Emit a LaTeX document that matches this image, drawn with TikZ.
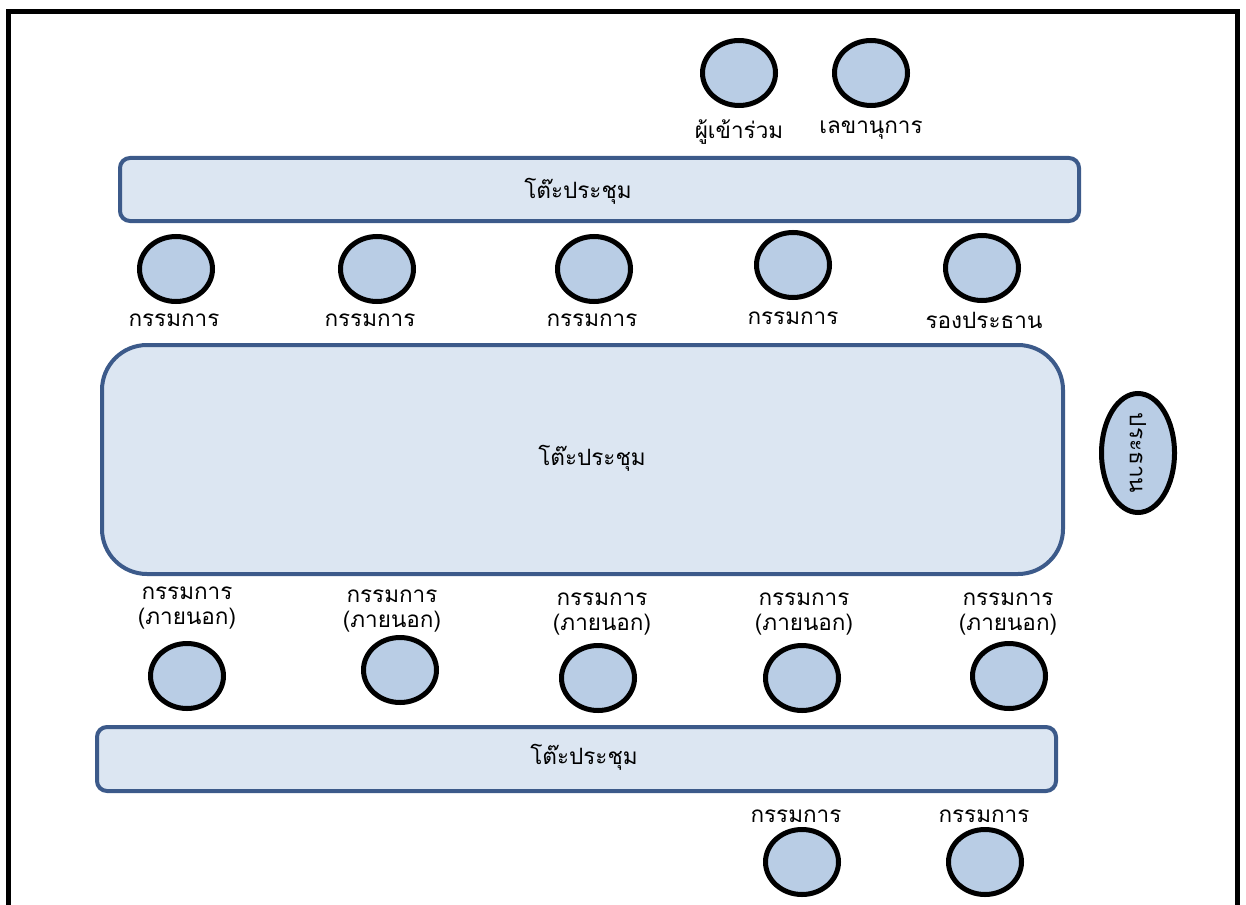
\documentclass[tikz,border=0pt]{standalone}
\usepackage{fontspec}
\newfontfamily\thaifont[Script=Thai]{Loma}
\usetikzlibrary{shapes.geometric}
\definecolor{seatfill}{HTML}{B9CDE5}
\definecolor{tablefill}{HTML}{DCE6F2}
\definecolor{tableedge}{HTML}{3C5A8A}
\begin{document}
\begin{tikzpicture}[x=1pt,y=-1pt,
  seat/.style={ellipse, draw=black, line width=5pt, fill=seatfill,
    minimum width=73pt, minimum height=65pt, inner sep=0pt},
  chairseat/.style={seat, minimum height=119pt},
  desk/.style={draw=tableedge, line width=4pt, fill=tablefill,
    rounded corners=10pt, inner sep=0pt},
  lbl/.style={font=\thaifont\fontsize{22.5}{25}\selectfont, inner sep=0pt, align=center},
]
\useasboundingbox (0,0) rectangle (1246,904);
\begin{scope}
\clip (0,0) rectangle (1246,904);
% room outline, open at the bottom edge
\coordinate (wallbl) at (8.5,920);
\coordinate (walltl) at (8.5,11.5);
\coordinate (walltr) at (1237.5,11.5);
\coordinate (wallbr) at (1237.5,920);
\draw[line width=5pt, line join=miter] (wallbl) -- (walltl) -- (walltr) -- (wallbr);

% tables
\node[desk, minimum width=959pt, minimum height=63pt] (deskA) at (599.5,189.5) {};
\node[desk, rounded corners=45pt, minimum width=961pt, minimum height=229pt] (deskB) at (582.5,459.5) {};
\node[desk, minimum width=959pt, minimum height=64pt] (deskC) at (576.5,759) {};
\node[lbl] (deskAtext) at (578,191) {โต๊ะประชุม};
\node[lbl] (deskBtext) at (592,458) {โต๊ะประชุม};
\node[lbl] (deskCtext) at (584,757) {โต๊ะประชุม};

% back row: attendee and secretary
\node[seat] (att) at (739,73) {};
\node[seat] (sec) at (871,73) {};
\node[lbl] (attl) at (739,132) {ผู้เข้าร่วม};
\node[lbl] (secl) at (871,130) {เลขานุการ};

% row between the first two tables
\node[seat] (m1) at (176,269) {};
\node[seat] (m2) at (377,269) {};
\node[seat] (m3) at (594,269) {};
\node[seat] (m4) at (793,265) {};
\node[seat] (vc) at (982,268) {};
\node[lbl] (m1l) at (174,320) {กรรมการ};
\node[lbl] (m2l) at (370,320) {กรรมการ};
\node[lbl] (m3l) at (592,320) {กรรมการ};
\node[lbl] (m4l) at (793,318) {กรรมการ};
\node[lbl] (vcl) at (984,320) {รองประธาน};

% chair at the head of the main table
\node[chairseat] (chair) at (1138,453) {};
\node[lbl, rotate=-90] (chairl) at (1138,453) {ประธาน};

% external members
\node[lbl] (e1l) at (187,608) {กรรมการ\\(ภายนอก)};
\node[lbl] (e2l) at (392,611) {กรรมการ\\(ภายนอก)};
\node[lbl] (e3l) at (602,614) {กรรมการ\\(ภายนอก)};
\node[lbl] (e4l) at (804,614) {กรรมการ\\(ภายนอก)};
\node[lbl] (e5l) at (1008,614) {กรรมการ\\(ภายนอก)};
\node[seat] (e1) at (187,676) {};
\node[seat] (e2) at (400,670) {};
\node[seat] (e3) at (598,678) {};
\node[seat] (e4) at (802,678) {};
\node[seat] (e5) at (1009,676) {};

% front row
\node[lbl] (f1l) at (796,816) {กรรมการ};
\node[lbl] (f2l) at (984,816) {กรรมการ};
\node[seat] (f1) at (802,862) {};
\node[seat] (f2) at (985,862) {};
\end{scope}
\end{tikzpicture}
\end{document}
